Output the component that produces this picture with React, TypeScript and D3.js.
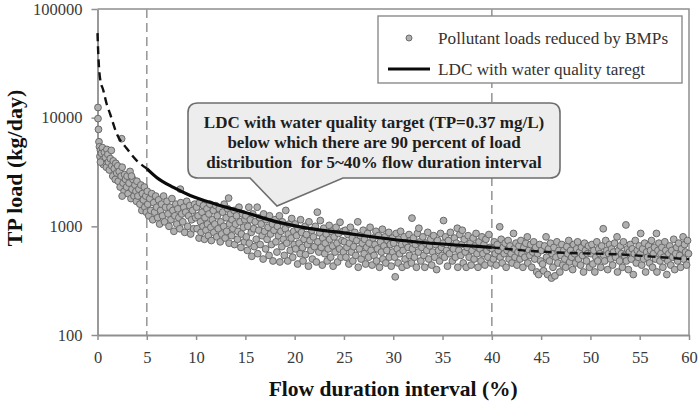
import React, { useRef, useEffect } from 'react';
import * as d3 from 'd3';

// axis ticks
const xTicks = [0, 5, 10, 15, 20, 25, 30, 35, 40, 45, 50, 55, 60];
const yTicks = [100, 1000, 10000, 100000];

// load duration curve for the TP target, [flow duration %, kg/day]
const ldcCurve = [
  [0, 60000], [0.08, 38400], [0.25, 23300], [0.6, 17700], [0.93, 13350], [1.27, 10900],
  [1.95, 7130], [2.97, 5200], [3.98, 4030], [5, 3400], [6, 2820], [7.7, 2280], [9.4, 1925],
  [12, 1600], [15, 1340], [18.2, 1100], [21.6, 952], [25, 870], [28, 798], [32.4, 718],
  [36.8, 670], [40, 640], [44, 593], [47.7, 569], [52.6, 553], [57.6, 516], [60, 498],
];

// pollutant loads reduced by BMPs, [flow duration %, kg/day], grouped by 5% bands
const loads00 = [
  [0.05, 12400], [0.05, 9800], [0.1, 7800], [0.15, 6000], [0.2, 5400], [0.3, 5000], [0.25, 4400],
  [0.4, 4700], [0.5, 5300], [0.55, 4100], [0.6, 3700], [0.7, 4800], [0.8, 4300], [0.9, 3500],
  [0.95, 5100], [0.3, 3900], [1.05, 4600], [1.1, 3900], [1.2, 3300], [1.3, 4200], [1.4, 5000],
  [1.45, 3600], [1.55, 2900], [1.6, 4000], [1.7, 3400], [1.8, 2700], [1.85, 3800], [1.95, 3100],
  [2.05, 3600], [2.1, 2600], [2.2, 3200], [2.3, 2300], [2.4, 2900], [2.45, 6400], [2.5, 3500],
  [2.6, 2500], [2.7, 2100], [2.75, 3000], [2.85, 2700], [2.95, 2300], [2.5, 1900], [3.0, 2900],
  [3.1, 2000], [3.2, 2500], [3.3, 3200], [3.4, 1800], [3.5, 2200], [3.6, 2700], [3.7, 1900],
  [3.8, 2400], [3.9, 2100], [3.95, 1700], [3.45, 2900], [4.0, 2600], [4.1, 1900], [4.2, 2200],
  [4.3, 1600], [4.4, 2400], [4.5, 1400], [4.55, 2000], [4.65, 1750], [4.75, 2300], [4.8, 1500],
  [4.9, 1900], [4.95, 1350],
];
const loads05 = [
  [5.05, 2100], [5.1, 1600], [5.2, 1250], [5.3, 1800], [5.4, 1400], [5.5, 2000], [5.6, 1150],
  [5.7, 1650], [5.8, 1350], [5.9, 1900], [6.0, 1500], [6.1, 1200], [6.2, 1750], [6.3, 1050],
  [6.4, 1400], [6.5, 1600], [6.6, 1250], [6.7, 1900], [6.8, 1100], [6.9, 1500], [7.05, 1700],
  [7.15, 1300], [7.25, 1000], [7.35, 1500], [7.45, 1150], [7.55, 1800], [7.65, 1400], [7.75, 900],
  [7.85, 1250], [7.95, 1600], [8.05, 1050], [8.15, 1450], [8.25, 1200], [8.4, 2200], [8.35, 950],
  [8.45, 1650], [8.55, 1300], [8.65, 1100], [8.75, 1500], [8.85, 880], [8.95, 1350], [9.05, 1700],
  [9.15, 1000], [9.25, 1250], [9.35, 1550], [9.45, 850], [9.55, 1150], [9.65, 1400], [9.75, 950],
  [9.85, 1600], [9.95, 1200],
];
const loads10 = [
  [10.05, 1500], [10.1, 950], [10.2, 1250], [10.3, 780], [10.35, 1650], [10.45, 1100], [10.5, 880],
  [10.6, 1350], [10.7, 1000], [10.75, 1550], [10.85, 760], [10.9, 1200], [11.0, 920], [11.1, 1450],
  [11.15, 1050], [11.25, 820], [11.3, 1300], [11.4, 1600], [11.5, 980], [11.55, 740], [11.65, 1150],
  [11.75, 1400], [11.8, 880], [11.9, 1050], [12.0, 1550], [12.1, 800], [12.15, 1250], [12.25, 950],
  [12.35, 1450], [12.45, 720], [12.5, 1100], [12.6, 850], [12.7, 1350], [12.8, 1000], [12.85, 1600],
  [12.95, 780], [13.05, 1200], [13.1, 900], [13.2, 1450], [13.3, 1820], [13.35, 700], [13.4, 1050],
  [13.5, 1300], [13.6, 820], [13.65, 1150], [13.75, 950], [13.85, 1400], [13.9, 680], [14.0, 1050],
  [14.1, 1250], [14.2, 760], [14.25, 900], [14.35, 1500], [14.45, 1100], [14.55, 640], [14.6, 850],
  [14.7, 1300], [14.8, 980], [14.9, 720], [14.95, 1150],
];
const loads15 = [
  [15.05, 1250], [15.1, 800], [15.2, 600], [15.25, 1000], [15.35, 1500], [15.4, 700], [15.5, 1150],
  [15.6, 880], [15.65, 530], [15.75, 1300], [15.85, 950], [15.9, 650], [16.0, 1100], [16.1, 760],
  [16.2, 1500], [16.25, 560], [16.35, 920], [16.45, 1200], [16.5, 680], [16.6, 1050], [16.7, 820],
  [16.8, 500], [16.85, 1300], [16.95, 900], [17.05, 620], [17.1, 1150], [17.2, 760], [17.3, 980],
  [17.4, 540], [17.45, 1250], [17.55, 850], [17.65, 680], [17.75, 1050], [17.8, 480], [17.9, 920],
  [18.0, 1150], [18.1, 720], [18.2, 580], [18.25, 1000], [18.35, 820], [18.45, 1250], [18.5, 470],
  [18.6, 900], [18.7, 650], [18.75, 1100], [18.85, 760], [18.95, 540], [19.05, 950], [19.1, 1400],
  [19.2, 700], [19.3, 480], [19.35, 850], [19.45, 1050], [19.55, 600], [19.65, 780], [19.7, 1180],
  [19.8, 520], [19.9, 900], [19.95, 680],
];
const loads20 = [
  [20.05, 1050], [20.1, 620], [20.2, 820], [20.3, 450], [20.35, 950], [20.45, 700], [20.55, 560],
  [20.6, 1150], [20.7, 880], [20.8, 640], [20.85, 480], [20.95, 760], [21.05, 1000], [21.1, 550],
  [21.2, 840], [21.3, 680], [21.4, 430], [21.45, 1100], [21.55, 740], [21.65, 600], [21.75, 920],
  [21.8, 500], [21.9, 800], [22.0, 650], [22.1, 1000], [22.2, 470], [22.3, 1350], [22.35, 720],
  [22.45, 580], [22.55, 870], [22.6, 1130], [22.7, 640], [22.8, 440], [22.85, 780], [22.95, 960],
  [23.05, 560], [23.1, 700], [23.2, 850], [23.3, 480], [23.4, 620], [23.5, 1020], [23.55, 760],
  [23.65, 520], [23.75, 900], [23.85, 660], [23.9, 430], [24.0, 800], [24.1, 580], [24.2, 980],
  [24.3, 700], [24.35, 470], [24.45, 860], [24.55, 620], [24.6, 1090], [24.7, 520], [24.8, 740],
  [24.9, 900], [24.95, 580],
];
const loads25 = [
  [25.05, 720], [25.15, 920], [25.2, 520], [25.3, 640], [25.4, 840], [25.5, 450], [25.55, 700],
  [25.65, 980], [25.75, 580], [25.85, 780], [25.9, 480], [26.0, 650], [26.1, 880], [26.2, 540],
  [26.3, 740], [26.4, 1100], [26.45, 420], [26.55, 620], [26.65, 820], [26.75, 500], [26.85, 700],
  [26.95, 920], [27.05, 560], [27.1, 760], [27.2, 450], [27.3, 640], [27.4, 860], [27.5, 520],
  [27.55, 700], [27.65, 980], [27.75, 600], [27.85, 440], [27.95, 780], [28.05, 540], [28.15, 680],
  [28.25, 900], [28.3, 480], [28.4, 620], [28.5, 820], [28.6, 420], [28.7, 720], [28.8, 580],
  [28.9, 940], [28.95, 500], [29.05, 660], [29.15, 800], [29.25, 460], [29.35, 600], [29.45, 740],
  [29.55, 880], [29.6, 520], [29.7, 680], [29.8, 430], [29.9, 780], [29.95, 580],
];
const loads30 = [
  [30.05, 700], [30.15, 520], [30.2, 343], [30.3, 860], [30.4, 620], [30.5, 460], [30.55, 760],
  [30.65, 560], [30.75, 900], [30.85, 680], [30.9, 420], [31.0, 600], [31.1, 800], [31.2, 500],
  [31.3, 700], [31.4, 440], [31.5, 640], [31.6, 840], [31.65, 540], [31.75, 740], [31.9, 1190],
  [31.85, 460], [31.95, 620], [32.05, 780], [32.15, 520], [32.25, 680], [32.35, 420], [32.45, 860],
  [32.55, 580], [32.6, 960], [32.7, 720], [32.8, 480], [32.9, 640], [33.0, 800], [33.1, 540],
  [33.2, 420], [33.3, 700], [33.4, 600], [33.5, 880], [33.6, 500], [33.7, 660], [33.8, 760],
  [33.9, 440], [34.0, 580], [34.1, 820], [34.2, 520], [34.3, 680], [34.4, 400], [34.5, 740],
  [34.6, 600], [34.7, 480], [34.8, 860], [34.9, 640], [34.95, 540],
];
const loads35 = [
  [35.05, 700], [35.1, 1130], [35.2, 520], [35.3, 800], [35.4, 600], [35.5, 430], [35.6, 740],
  [35.7, 560], [35.8, 880], [35.9, 660], [36.0, 480], [36.1, 620], [36.2, 780], [36.3, 520],
  [36.4, 700], [36.5, 960], [36.55, 420], [36.65, 600], [36.75, 840], [36.85, 540], [36.95, 680],
  [37.0, 920], [37.1, 460], [37.2, 760], [37.3, 580], [37.4, 420], [37.5, 640], [37.6, 820],
  [37.7, 520], [37.8, 700], [37.9, 440], [38.0, 600], [38.1, 780], [38.2, 500], [38.3, 660],
  [38.4, 860], [38.5, 560], [38.6, 420], [38.7, 720], [38.8, 620], [38.9, 480], [39.0, 800],
  [39.1, 560], [39.2, 680], [39.3, 440], [39.4, 760], [39.5, 600], [39.6, 520], [39.7, 840],
  [39.8, 640], [39.9, 460],
];
const loads40 = [
  [40.05, 620], [40.15, 500], [40.25, 720], [40.35, 560], [40.45, 440], [40.55, 680], [40.65, 600],
  [40.8, 990], [40.85, 520], [40.95, 760], [41.05, 460], [41.15, 640], [41.25, 560], [41.35, 700],
  [41.45, 420], [41.55, 600], [41.65, 740], [41.75, 500], [41.85, 660], [41.95, 560], [42.05, 460],
  [42.2, 860], [42.25, 620], [42.35, 520], [42.45, 700], [42.55, 440], [42.65, 580], [42.75, 660],
  [42.85, 500], [42.95, 740], [43.05, 560], [43.15, 420], [43.25, 640], [43.35, 520], [43.45, 700],
  [43.6, 800], [43.65, 460], [43.75, 600], [43.85, 540], [43.95, 680], [44.05, 420], [44.15, 580],
  [44.25, 720], [44.35, 500], [44.45, 640], [44.55, 380], [44.65, 560], [44.75, 360], [44.85, 680],
  [44.95, 480],
];
const loads45 = [
  [45.05, 600], [45.15, 450], [45.25, 390], [45.35, 660], [45.5, 800], [45.55, 520], [45.65, 360],
  [45.75, 620], [45.85, 480], [45.95, 700], [46.05, 334], [46.1, 560], [46.2, 420], [46.3, 640],
  [46.4, 350], [46.5, 520], [46.6, 720], [46.7, 460], [46.8, 600], [46.9, 380], [47.0, 540],
  [47.1, 680], [47.2, 440], [47.3, 600], [47.4, 500], [47.5, 420], [47.6, 650], [47.7, 560],
  [47.8, 740], [47.9, 470], [48.0, 600], [48.1, 520], [48.2, 400], [48.3, 680], [48.4, 560],
  [48.5, 460], [48.6, 620], [48.7, 720], [48.8, 500], [48.9, 580], [49.0, 440], [49.1, 640],
  [49.2, 540], [49.3, 380], [49.4, 700], [49.5, 600], [49.6, 480], [49.7, 560], [49.8, 660],
  [49.9, 420],
];
const loads50 = [
  [50.05, 560], [50.15, 680], [50.25, 450], [50.35, 600], [50.45, 380], [50.55, 520], [50.65, 720],
  [50.75, 480], [50.85, 620], [50.95, 560], [51.05, 420], [51.15, 660], [51.3, 950], [51.35, 540],
  [51.45, 480], [51.55, 740], [51.65, 600], [51.75, 400], [51.85, 560], [51.95, 680], [52.05, 500],
  [52.15, 620], [52.25, 440], [52.35, 580], [52.45, 700], [52.55, 520], [52.7, 800], [52.75, 380],
  [52.85, 600], [52.95, 480], [53.05, 660], [53.15, 560], [53.25, 420], [53.35, 720], [53.45, 540],
  [53.6, 1030], [53.65, 480], [53.75, 620], [53.85, 400], [53.95, 580], [54.05, 680], [54.15, 500],
  [54.25, 620], [54.35, 360], [54.45, 560], [54.55, 740], [54.65, 460], [54.75, 600], [54.85, 520],
  [54.95, 660],
];
const loads55 = [
  [55.05, 560], [55.1, 860], [55.2, 440], [55.3, 620], [55.4, 500], [55.5, 700], [55.6, 380],
  [55.7, 580], [55.8, 520], [55.9, 660], [56.0, 460], [56.1, 600], [56.2, 740], [56.3, 420],
  [56.4, 560], [56.5, 640], [56.6, 500], [56.7, 860], [56.75, 380], [56.85, 600], [56.95, 700],
  [57.05, 480], [57.15, 560], [57.25, 640], [57.35, 420], [57.45, 520], [57.55, 720], [57.65, 600],
  [57.75, 360], [57.85, 480], [57.95, 560], [58.05, 660], [58.15, 440], [58.25, 600], [58.35, 520],
  [58.45, 760], [58.55, 400], [58.65, 560], [58.75, 640], [58.85, 480], [58.95, 700], [59.05, 540],
  [59.15, 420], [59.25, 620], [59.4, 800], [59.45, 500], [59.55, 680], [59.65, 580], [59.75, 440],
  [59.85, 740], [59.95, 560],
];

const calloutLines = [
  'LDC with water quality target (TP=0.37 mg/L)',
  'below which there are 90 percent of load',
  'distribution  for 5~40% flow duration interval',
];
const legendLabels = ['Pollutant loads reduced by BMPs', 'LDC with water quality taregt'];

const W = 698;
const H = 402;
const serif = "'Liberation Serif', 'Times New Roman', Times, serif";

const App = () => {
  const ref = useRef<SVGSVGElement>(null);

  useEffect(() => {
    const svg = d3.select(ref.current);
    svg.selectAll('*').remove();

    const left = 97.5;
    const right = 689;
    const top = 9;
    const bottom = 335;

    const x = d3.scaleLinear().domain([0, 60]).range([left, right]);
    const y = d3.scaleLog().domain([100, 100000]).range([bottom, top]);

    const frameColor = '#8f8f8f';

    // plot frame (top and right sides)
    svg.append('path')
      .attr('d', `M${left},${top}H${right}V${bottom}`)
      .attr('fill', 'none')
      .attr('stroke', frameColor)
      .attr('stroke-width', 1.5);

    // reference lines at 5% and 40%
    [5, 40].forEach(v => {
      svg.append('line')
        .attr('x1', x(v)).attr('x2', x(v))
        .attr('y1', top).attr('y2', bottom)
        .attr('stroke', '#9a9a9a')
        .attr('stroke-width', 1.6)
        .attr('stroke-dasharray', '9,5');
    });

    // axes
    const xAxis = svg.append('g')
      .attr('transform', `translate(0,${bottom})`)
      .call(d3.axisBottom(x).tickValues(xTicks).tickSize(5).tickSizeOuter(0));
    const yAxis = svg.append('g')
      .attr('transform', `translate(${left},0)`)
      .call(d3.axisLeft(y).tickValues(yTicks).tickFormat(d3.format('d')).tickSize(6).tickSizeOuter(0).tickPadding(9));

    [xAxis, yAxis].forEach(g => {
      g.attr('font-family', null).attr('font-size', null);
      g.select('.domain').attr('stroke', frameColor).attr('stroke-width', 1.8);
      g.selectAll('.tick line').attr('stroke', frameColor).attr('stroke-width', 1.5);
      g.selectAll('.tick text')
        .style('font-family', serif)
        .style('font-size', '16.5px')
        .attr('fill', '#3a3a3a');
    });
    xAxis.selectAll('.tick text').attr('y', 28).attr('dy', 0);

    // scatter of reduced loads
    const allLoads = [
      ...loads00, ...loads05, ...loads10, ...loads15, ...loads20, ...loads25,
      ...loads30, ...loads35, ...loads40, ...loads45, ...loads50, ...loads55,
    ];
    svg.append('g')
      .selectAll('circle')
      .data(allLoads)
      .enter()
      .append('circle')
      .attr('cx', d => x(d[0]))
      .attr('cy', d => y(d[1]))
      .attr('r', 3.4)
      .attr('fill', '#b0b0b0')
      .attr('stroke', '#6a6a6a')
      .attr('stroke-width', 1);

    // LDC: dashed outside 5-40%, solid within
    const line = d3.line<number[]>()
      .x(d => x(d[0]))
      .y(d => y(d[1]))
      .curve(d3.curveMonotoneX);

    svg.append('path')
      .datum(ldcCurve.filter(d => d[0] <= 5))
      .attr('fill', 'none')
      .attr('stroke', '#111')
      .attr('stroke-width', 2.4)
      .attr('stroke-dasharray', '8,5')
      .attr('d', line);

    svg.append('path')
      .datum(ldcCurve.filter(d => d[0] >= 40))
      .attr('fill', 'none')
      .attr('stroke', '#111')
      .attr('stroke-width', 2.4)
      .attr('stroke-dasharray', '8,5')
      .attr('d', line);

    svg.append('path')
      .datum(ldcCurve.filter(d => d[0] >= 5 && d[0] <= 40))
      .attr('fill', 'none')
      .attr('stroke', '#0a0a0a')
      .attr('stroke-width', 3.2)
      .attr('d', line);

    // callout box with pointer
    const cx0 = 188, cx1 = 560, cy0 = 103, cy1 = 178, rr = 10;
    const tipX = 277, tipY = 206, baseL = 250, baseR = 343;
    svg.append('path')
      .attr('d', `M${cx0 + rr},${cy0}H${cx1 - rr}Q${cx1},${cy0} ${cx1},${cy0 + rr}V${cy1 - rr}` +
        `Q${cx1},${cy1} ${cx1 - rr},${cy1}H${baseR}L${tipX},${tipY}L${baseL},${cy1}H${cx0 + rr}` +
        `Q${cx0},${cy1} ${cx0},${cy1 - rr}V${cy0 + rr}Q${cx0},${cy0} ${cx0 + rr},${cy0}Z`)
      .attr('fill', '#ededed')
      .attr('stroke', '#6e6e6e')
      .attr('stroke-width', 1.6);

    calloutLines.forEach((t, i) => {
      svg.append('text')
        .attr('x', (cx0 + cx1) / 2)
        .attr('y', 128 + i * 20)
        .attr('text-anchor', 'middle')
        .style('font-family', serif)
        .style('font-weight', 'bold')
        .style('font-size', '17px')
        .style('white-space', 'pre')
        .attr('fill', '#1e1e1e')
        .text(t);
    });

    // legend
    const legend = svg.append('g');
    legend.append('rect')
      .attr('x', 378).attr('y', 16)
      .attr('width', 304).attr('height', 67)
      .attr('fill', '#fff')
      .attr('stroke', '#8a8a8a')
      .attr('stroke-width', 1.4);
    legend.append('circle')
      .attr('cx', 409).attr('cy', 38).attr('r', 3)
      .attr('fill', '#b0b0b0').attr('stroke', '#6a6a6a').attr('stroke-width', 1);
    legend.append('line')
      .attr('x1', 388).attr('x2', 430).attr('y1', 69).attr('y2', 69)
      .attr('stroke', '#0a0a0a').attr('stroke-width', 3);
    legendLabels.forEach((t, i) => {
      legend.append('text')
        .attr('x', 438)
        .attr('y', 44 + i * 31)
        .style('font-family', serif)
        .style('font-size', '17.2px')
        .attr('fill', '#333')
        .text(t);
    });

    // axis titles
    svg.append('text')
      .attr('x', (left + right) / 2)
      .attr('y', 396)
      .attr('text-anchor', 'middle')
      .style('font-family', serif)
      .style('font-weight', 'bold')
      .style('font-size', '21.5px')
      .attr('fill', '#111')
      .text('Flow duration interval (%)');

    svg.append('text')
      .attr('transform', 'rotate(-90)')
      .attr('x', -168)
      .attr('y', 22)
      .attr('text-anchor', 'middle')
      .style('font-family', serif)
      .style('font-weight', 'bold')
      .style('font-size', '22px')
      .attr('fill', '#111')
      .text('TP load (kg/day)');
  }, []);

  return (
    <svg ref={ref} width={W} height={H}
      style={{ position: 'absolute', left: 0, top: 0, background: '#fff' }} />
  );
};

export default App;
